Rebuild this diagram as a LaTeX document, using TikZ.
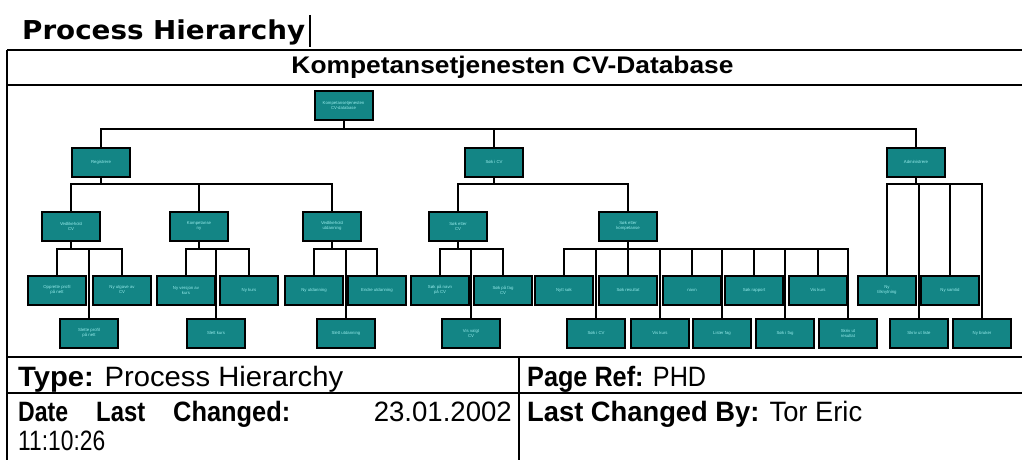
\documentclass[tikz,border=0pt]{standalone}
\usepackage{fontspec}
\setmainfont{Liberation Sans}
\newfontfamily\titlefont{DejaVu Sans}
\usepackage{graphicx}
\usetikzlibrary{backgrounds}
\definecolor{procteal}{RGB}{19,133,133}
\definecolor{proctext}{RGB}{150,235,235}
\newcommand{\fitto}[2]{\resizebox{#1pt}{\height}{#2}}
\begin{document}
\begin{tikzpicture}[x=1pt,y=-1pt,
  proc/.style={draw=black,line width=2pt,fill=procteal,minimum width=58pt,
    minimum height=29pt,inner sep=0pt,align=center,text=proctext,
    font=\fontsize{4.3}{5}\selectfont},
  link/.style={draw=black,line width=2pt},
  rule/.style={draw=black,line width=2.2pt},
  lbl/.style={anchor=base west,inner sep=0pt,font=\fontsize{28}{32}\selectfont}]
\useasboundingbox (0,0) rectangle (1022,460);
\begin{scope}[on background layer]
  \fill[white] (0,0) rectangle (1022,460);
\end{scope}

% page title and text cursor
\node[anchor=base west,inner sep=0pt] (title) at (22,40)
  {\fitto{283}{\titlefont\bfseries\fontsize{26}{30}\selectfont Process Hierarchy}};
\draw[line width=2pt] (310,15) -- (310,47);

% frame and table rules
\draw[rule] (7,50) -- (1024,50);
\draw[rule] (7,50) -- (7,462);
\draw[rule] (7,85) -- (1024,85);
\draw[rule] (7,357) -- (1024,357);
\draw[rule] (7,393) -- (1024,393);
\draw[rule] (519,357) -- (519,462);

\node[anchor=base,inner sep=0pt] (head) at (512.5,74)
  {\fitto{442}{\bfseries\fontsize{24}{28}\selectfont Kompetansetjenesten CV-Database}};

% bus levels
\coordinate (bus0) at (0,129);
\coordinate (bus1) at (0,184);
\coordinate (bus2) at (0,249);

% level 0
\node[proc] (root) at (343.5,105) {Kompetansetjenesten\\CV-database};
% level 1
\node[proc] (A) at (101,162) {Registrere};
\node[proc] (B) at (494,162) {Søk i CV};
\node[proc] (C) at (916,162) {Administrere};
% level 2
\node[proc] (a1) at (71,226) {Vedlikehold\\CV};
\node[proc] (a2) at (199,226) {Kompetanse\\ny};
\node[proc] (a3) at (332,226) {Vedlikehold\\utdanning};
\node[proc] (b1) at (458,226) {Søk etter\\CV};
\node[proc] (b2) at (628,226) {Søk etter\\kompetanse};
% level 3
\node[proc] (a1x) at (57,290) {Opprette profil\\på nett};
\node[proc] (a1y) at (122,290) {Ny utgave av\\CV};
\node[proc] (a2x) at (186,290) {Ny versjon av\\kurs};
\node[proc] (a2y) at (249,290) {Ny kurs};
\node[proc] (a3x) at (314,290) {Ny utdanning};
\node[proc] (a3y) at (377,290) {Endre utdanning};
\node[proc] (b1x) at (440,290) {Søk på navn\\på CV};
\node[proc] (b1y) at (503,290) {Søk på fag\\CV};
\node[proc] (b2a) at (564,290) {Nytt søk};
\node[proc] (b2b) at (628,290) {Søk resultat};
\node[proc] (b2c) at (692,290) {navn};
\node[proc] (b2d) at (754,290) {Søk rapport};
\node[proc] (b2e) at (818,290) {Vis kurs};
\node[proc] (cx) at (887,290) {Ny\\tilknytning};
\node[proc] (cy) at (950,290) {Ny samtid};
% level 4
\node[proc] (a1z) at (89,333) {Slette profil\\på nett};
\node[proc] (a2z) at (216,333) {Slett kurs};
\node[proc] (a3z) at (346,333) {Slett utdanning};
\node[proc] (b1z) at (471,333) {Vis valgt\\CV};
\node[proc] (b2f) at (596,333) {Søk i CV};
\node[proc] (b2g) at (660,333) {Vis kurs};
\node[proc] (b2h) at (722,333) {Lister fag};
\node[proc] (b2i) at (785,333) {Søk i fag};
\node[proc] (b2j) at (848,333) {Skriv ut\\resultat};
\node[proc] (cz) at (919,333) {Skriv ut liste};
\node[proc] (cw) at (982,333) {Ny bruker};

% connectors, kept behind the boxes
\begin{scope}[on background layer]
\foreach \k in {A,B,C}
  \draw[link] (root.south) -- (root.south |- bus0) -| (\k.north);
\foreach \k in {a1,a2,a3}
  \draw[link] (A.south) -- (A.south |- bus1) -| (\k.north);
\foreach \k in {b1,b2}
  \draw[link] (B.south) -- (B.south |- bus1) -| (\k.north);
\foreach \k in {cx,cy,cz,cw}
  \draw[link] (C.south) -- (C.south |- bus1) -| (\k.north);
\foreach \k in {a1x,a1y,a1z}
  \draw[link] (a1.south) -- (a1.south |- bus2) -| (\k.north);
\foreach \k in {a2x,a2y,a2z}
  \draw[link] (a2.south) -- (a2.south |- bus2) -| (\k.north);
\foreach \k in {a3x,a3y,a3z}
  \draw[link] (a3.south) -- (a3.south |- bus2) -| (\k.north);
\foreach \k in {b1x,b1y,b1z}
  \draw[link] (b1.south) -- (b1.south |- bus2) -| (\k.north);
\foreach \k in {b2a,b2b,b2c,b2d,b2e,b2f,b2g,b2h,b2i,b2j}
  \draw[link] (b2.south) -- (b2.south |- bus2) -| (\k.north);
\end{scope}

% table texts
\node[lbl] (type) at (18,386) {\fitto{325}{\textbf{Type:} Process Hierarchy}};
\node[lbl] (pref) at (527,386) {\fitto{179}{\textbf{Page Ref:} PHD}};
\node[lbl] (date1) at (18,421) {\fitto{50}{\textbf{Date}}};
\node[lbl] (date2) at (96,421) {\fitto{49}{\textbf{Last}}};
\node[lbl] (date3) at (173,421) {\fitto{117}{\textbf{Changed:}}};
\node[lbl,anchor=base east] (date4) at (512,421) {\fitto{138}{23.01.2002}};
\node[lbl] (time) at (18,450) {\fitto{87}{11:10:26}};
\node[lbl] (by) at (527,421) {\fitto{335}{\textbf{Last Changed By:} Tor Eric}};
\end{tikzpicture}
\end{document}
